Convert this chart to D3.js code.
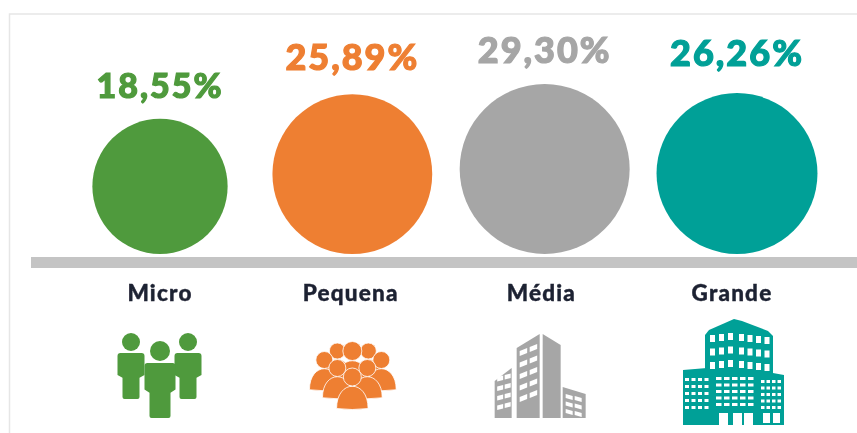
<!DOCTYPE html>
<html>
<head>
<meta charset="utf-8">
<script src="https://cdnjs.cloudflare.com/ajax/libs/d3/7.8.5/d3.min.js"></script>
<style>
  html, body { margin: 0; padding: 0; background: #fff; overflow: hidden; }
  svg { display: block; }
  text { font-family: Lato, "Open Sans", sans-serif; text-anchor: middle; }
</style>
</head>
<body>
<svg id="chart"></svg>
<script>
var categories = ["Micro", "Pequena", "Média", "Grande"];
var shares = [18.55, 25.89, 29.30, 26.26];
var shareLabels = ["18,55%", "25,89%", "29,30%", "26,26%"];
var colors = ["#4f9a3c", "#ee7f33", "#a6a6a6", "#00a097"];
var icons = [drawMicro, drawPequena, drawMedia, drawGrande];

var width = 857, height = 433;
var baseline = 254;
var iconTop = 318;
// the original labels were placed by hand, gap and size differ per circle
var labelGap = d3.scaleOrdinal().domain(categories).range([21, 24, 21, 27]);
var labelSize = d3.scaleOrdinal().domain(categories).range([34, 36, 36, 36]);

var svg = d3.select("#chart").attr("width", width).attr("height", height);

// the source is a soft, upscaled screenshot
var blur = svg.append("defs").append("filter").attr("id", "soft");
blur.append("feGaussianBlur").attr("stdDeviation", 0.75);

var x = d3.scalePoint().domain(categories).range([160, 737]);
var xLabel = d3.scalePoint().domain(categories).range([160, 732]);
var r = d3.scaleSqrt().domain([0, 29.3]).range([0, 85]);

var root = svg.append("g").attr("filter", "url(#soft)");

// frame of the original box
root.append("path")
  .attr("d", "M9.5,433V14H857")
  .attr("fill", "none")
  .attr("stroke", "#e6e6e6")
  .attr("stroke-width", 1.5);

root.selectAll("circle.share")
  .data(categories)
  .enter().append("circle")
  .attr("class", "share")
  .attr("cx", function(d) { return x(d); })
  .attr("cy", function(d, i) { return baseline - r(shares[i]); })
  .attr("r", function(d, i) { return r(shares[i]); })
  .style("fill", function(d, i) { return colors[i]; });

root.append("rect")
  .attr("x", 31).attr("y", 257)
  .attr("width", width - 31).attr("height", 11)
  .style("fill", "#c4c4c4");

root.selectAll("text.share")
  .data(categories)
  .enter().append("text")
  .attr("class", "share")
  .attr("x", function(d) { return x(d); })
  .attr("y", function(d, i) { return baseline - 2 * r(shares[i]) - labelGap(d); })
  .style("font-size", function(d) { return labelSize(d) + "px"; })
  .style("font-weight", 900)
  .style("letter-spacing", "2px")
  .style("fill", function(d, i) { return colors[i]; })
  .style("stroke", function(d, i) { return colors[i]; })
  .style("stroke-width", 1.2)
  .text(function(d, i) { return shareLabels[i]; });

root.selectAll("text.cat")
  .data(categories)
  .enter().append("text")
  .attr("class", "cat")
  .attr("x", function(d) { return xLabel(d); })
  .attr("y", 301)
  .style("font-size", "22.5px")
  .style("font-weight", 900)
  .style("letter-spacing", "1.2px")
  .style("fill", "#1e2233")
  .style("stroke", "#1e2233")
  .style("stroke-width", 0.4)
  .text(function(d) { return d; });

categories.forEach(function(d, i) {
  var g = root.append("g")
    .attr("transform", "translate(" + x(d) + "," + iconTop + ")")
    .style("fill", colors[i]);
  icons[i](g);
});

function drawMicro(g) {
  // two men behind, one in front
  man(g, -29, 24, 9, 13.5, 46);
  man(g, 28, 24, 9, 13.5, 46);
  man(g, 0, 33, 10, 15.5, 55);
}

function man(g, cx, headY, headR, halfW, bodyH) {
  var top = headY + headR + 2;
  g.append("circle").attr("cx", cx).attr("cy", headY).attr("r", headR);
  g.append("path")
    .attr("d", "M" + (cx - halfW + 3) + "," + top + "H" + (cx + halfW - 3) +
      "Q" + (cx + halfW) + "," + top + " " + (cx + halfW) + "," + (top + 3) +
      "V" + (top + bodyH * 0.48) + "L" + (cx + halfW - 5) + "," + (top + bodyH * 0.54) +
      "V" + (top + bodyH - 2) + "Q" + (cx + halfW - 5) + "," + (top + bodyH) + " " + (cx + halfW - 7) + "," + (top + bodyH) +
      "H" + (cx - halfW + 7) + "Q" + (cx - halfW + 5) + "," + (top + bodyH) + " " + (cx - halfW + 5) + "," + (top + bodyH - 2) +
      "V" + (top + bodyH * 0.54) + "L" + (cx - halfW) + "," + (top + bodyH * 0.48) +
      "V" + (top + 3) + "Q" + (cx - halfW) + "," + top + " " + (cx - halfW + 3) + "," + top + "Z");
}

function drawPequena(g) {
  // painted back to front, white outline keeps the figures apart
  person(g, -15, 33, 8);
  person(g, 16, 33, 8);
  person(g, 0, 33, 9.5);
  person(g, -28, 42, 8.5);
  person(g, 29, 42, 8.5);
  person(g, -15, 50, 8.5);
  person(g, 15, 50, 8.5);
  person(g, 0, 59, 9);
}

function person(g, cx, headY, headR) {
  var w = headR * 1.75, top = headY + headR * 0.2, bottom = headY + headR * 3.5;
  g.append("path")
    .attr("d", "M" + (cx - w) + "," + bottom +
      "C" + (cx - w) + "," + top + " " + (cx + w) + "," + top + " " + (cx + w) + "," + bottom +
      "Q" + cx + "," + (bottom + 2) + " " + (cx - w) + "," + bottom + "Z")
    .style("stroke", "#fff").style("stroke-width", 0.8);
  g.append("circle").attr("cx", cx).attr("cy", headY).attr("r", headR)
    .style("stroke", "#fff").style("stroke-width", 0.8);
}

function drawMedia(g) {
  var blocks = [
    "M-50,63L-33,50V100H-50Z",
    "M-28,30L-5,16V100H-28Z",
    "M-2,16L16,27V100H-2Z",
    "M18,69L41,76V100H18Z"
  ];
  g.selectAll("path.block").data(blocks).enter().append("path")
    .attr("class", "block").attr("d", function(d) { return d; });
  var i, j;
  for (j = 0; j < 4; j++) for (i = 0; i < 2; i++) slantWin(g, -47.5 + i * 7.5, 59 + j * 9.5 - i * 2, 6, 4.5, -1.5);
  for (j = 0; j < 5; j++) for (i = 0; i < 2; i++) slantWin(g, -25 + i * 10, 33 + j * 11.5 - i * 4, 7.5, 5, -3);
  for (j = 0; j < 3; j++) for (i = 0; i < 2; i++) slantWin(g, 21 + i * 9, 76 + j * 7.5 + i * 2, 7, 4, 2);
}

function slantWin(g, wx, wy, w, h, dy) {
  g.append("path")
    .attr("d", "M" + wx + "," + wy + "L" + (wx + w) + "," + (wy + dy) + "V" + (wy + dy + h) + "L" + wx + "," + (wy + h) + "Z")
    .style("fill", "#fff");
}

function drawGrande(g) {
  g.append("path").attr("d", "M-32,17L-28,12L-3,1L5,3L31,13L36,18V55H-32Z");
  g.append("path").attr("d", "M-54,52L-30,50L-3,48L47,57V107H-54Z");
  var i, j;
  // upper floors
  for (j = 0; j < 3; j++) {
    for (i = 0; i < 3; i++) win(g, -27 + i * 9, 17 - i * 1 + j * 13.5, 5, 7);
    for (i = 0; i < 4; i++) win(g, 2 + i * 8.5, 16 + i * 1 + j * 13.5, 5, 7);
  }
  // lower floors
  for (j = 0; j < 5; j++) {
    for (i = 0; i < 4; i++) win(g, -52 + i * 6.5, 60 + j * 7, 4, 3);
    for (i = 0; i < 5; i++) win(g, -21 + i * 8, 59 + j * 6.5, 5.5, 3);
    for (i = 0; i < 4; i++) win(g, 24 + i * 5.5, 62 + j * 6.5, 3.5, 3);
  }
  // doors
  [-18, -4, 7].forEach(function(dx) { win(g, dx, 95, 9, 13); });
  [26, 36].forEach(function(dx) { win(g, dx, 95, 7, 10); });
}

function win(g, wx, wy, w, h) {
  g.append("rect").attr("x", wx).attr("y", wy).attr("width", w).attr("height", h).style("fill", "#fff");
}
</script>
</body>
</html>
